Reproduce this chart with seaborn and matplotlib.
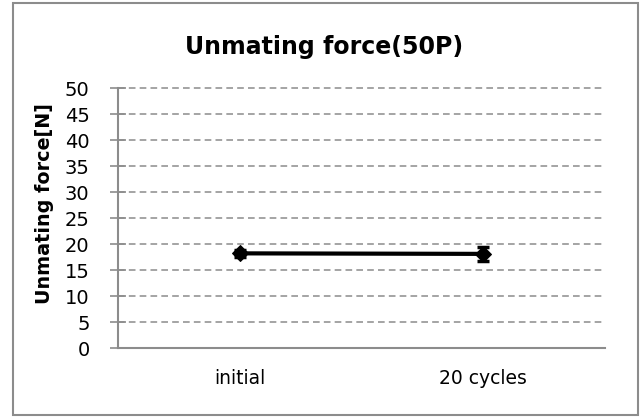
import matplotlib
matplotlib.use("Agg")
import matplotlib.pyplot as plt
import seaborn as sns
import pandas as pd
from matplotlib.patches import Rectangle

categories = ["initial", "20 cycles"]
means = [18.2, 18.1]
errors = [0.7, 1.4]
y_ticks = [0, 5, 10, 15, 20, 25, 30, 35, 40, 45, 50]
title = "Unmating force(50P)"
ylabel = "Unmating force[N]"

sns.set_style("white")
plt.rcParams["font.family"] = ["DejaVu Sans"]
plt.rcParams["text.color"] = "black"

fig = plt.figure(figsize=(6.42, 4.2), dpi=100)
ax = fig.add_axes([118 / 642, 1 - 348 / 420, (605 - 118) / 642, (348 - 88) / 420])

df = pd.DataFrame({"cat": categories, "val": means})
sns.lineplot(data=df, x="cat", y="val", ax=ax, color="black", linewidth=3,
             marker="D", markersize=8, markeredgecolor="black", sort=False)
ax.errorbar(range(len(categories)), means, yerr=errors, fmt="none",
            ecolor="black", elinewidth=2.5, capsize=4.5, capthick=2.5, zorder=5)

ax.set_xlim(-0.5, 1.5)
ax.set_ylim(0, 50)
ax.set_yticks(y_ticks)
ax.set_yticklabels([str(t) for t in y_ticks], fontsize=14, color="black")
ax.set_xticks(range(len(categories)))
ax.set_xticklabels(categories, fontsize=13.5, color="black")
ax.tick_params(axis="y", which="both", direction="inout", length=11, width=1.2,
               color="#8c8c8c", pad=15, left=True)
ax.tick_params(axis="x", length=0, pad=15)

for y in y_ticks[1:]:
    ax.axhline(y, color="#959595", linestyle=(0, (4, 2.5)), linewidth=1.2,
               zorder=0, clip_on=False)

for side in ["top", "right"]:
    ax.spines[side].set_visible(False)
for side in ["left", "bottom"]:
    ax.spines[side].set_color("#8c8c8c")
    ax.spines[side].set_linewidth(1.5)
ax.set_xlabel("")
ax.set_ylabel("")

fig.text(0.505, 1 - 47 / 420, title, ha="center", va="center", fontsize=17,
         fontweight="bold", color="black")
fig.text(45 / 642, 1 - 204 / 420, ylabel, ha="center", va="center", rotation=90,
         fontsize=13.8, fontweight="bold", color="black")

fig.patches.append(Rectangle((13 / 642, 5 / 420), (638 - 13) / 642, (417 - 5) / 420,
                             transform=fig.transFigure, fill=False,
                             edgecolor="#8c8c8c", linewidth=1.5))

fig.savefig("out.png", dpi=100)
